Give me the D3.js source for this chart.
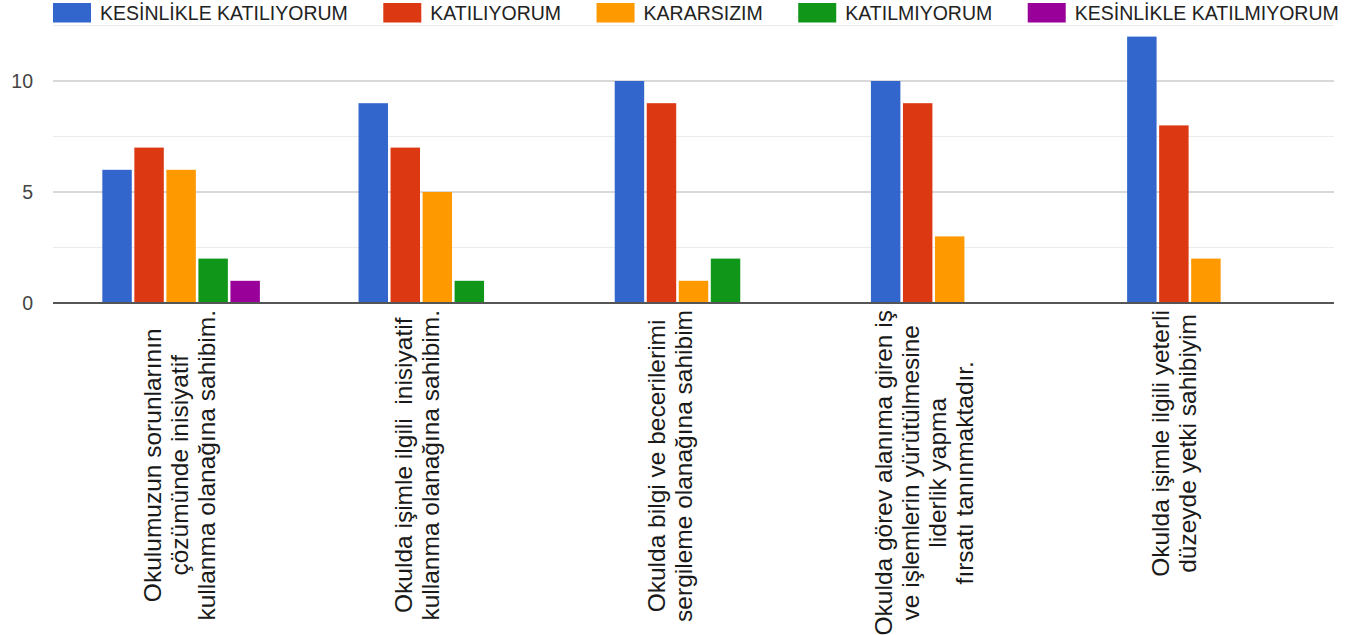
<!DOCTYPE html>
<html><head><meta charset="utf-8">
<script src="https://cdn.jsdelivr.net/npm/d3@7"></script>
<style>
html,body{margin:0;padding:0;background:#fff;}
svg{display:block;font-family:"Liberation Sans",Arial,sans-serif;}
text{white-space:pre;}
</style>
</head><body>
<svg id="chart" width="1357" height="635"></svg>
<script>
const categories = [
  "Okulumuzun sorunlarının\nçözümünde inisiyatif\nkullanma olanağına sahibim.",
  "Okulda işimle ilgili  inisiyatif\nkullanma olanağına sahibim.",
  "Okulda bilgi ve becerilerimi\nsergileme olanağına sahibim",
  "Okulda görev alanıma giren iş\nve işlemlerin yürütülmesine\nliderlik yapma\nfırsatı tanınmaktadır.",
  "Okulda işimle ilgili yeterli\ndüzeyde yetki sahibiyim"
];
const seriesNames = ["KESİNLİKLE KATILIYORUM","KATILIYORUM","KARARSIZIM","KATILMIYORUM","KESİNLİKLE KATILMIYORUM"];
const seriesColors = ["#3366cc","#dc3912","#ff9900","#109618","#990099"];
const kesinlikleKatiliyorum = [6, 9, 10, 10, 12];
const katiliyorum = [7, 7, 9, 9, 8];
const kararsizim = [6, 5, 1, 3, 2];
const katilmiyorum = [2, 1, 2, 0, 0];
const kesinlikleKatilmiyorum = [1, 0, 0, 0, 0];
const yTickValues = [0, 5, 10];
const yMinorGrid = [2.5, 7.5, 12.5];

const seriesValues = [kesinlikleKatiliyorum, katiliyorum, kararsizim, katilmiyorum, kesinlikleKatilmiyorum];

(function () {
// layout
const plotLeft = 53, plotRight = 1334, plotTop = 25.5, plotBottom = 303;
const labelShift = [-2, -20.5, -24, -26, -31.5];
const lineStep = 27;

const svg = d3.select("#chart");
const x0 = d3.scaleBand().domain(d3.range(categories.length)).range([plotLeft, plotRight]).padding(0);
const x1 = d3.scaleBand().domain(d3.range(seriesNames.length)).range([0, x0.bandwidth()])
  .paddingInner(0.08).paddingOuter(1.54).align(0.5);
const y = d3.scaleLinear().domain([0, 12.5]).range([plotBottom, plotTop]);

// gridlines
svg.append("g").selectAll("line").data(yMinorGrid).join("line")
  .attr("x1", plotLeft).attr("x2", plotRight).attr("y1", d => y(d)).attr("y2", d => y(d))
  .attr("stroke", "#ebebeb").attr("stroke-width", 1.2);
svg.append("g").selectAll("line").data(yTickValues.filter(d => d !== 0)).join("line")
  .attr("x1", plotLeft).attr("x2", plotRight).attr("y1", d => y(d)).attr("y2", d => y(d))
  .attr("stroke", "#cccccc").attr("stroke-width", 1.5);

// y axis labels
const yAxis = d3.axisLeft(y).tickValues(yTickValues).tickSize(0).tickPadding(0).tickFormat(d3.format("d"));
const ya = svg.append("g").attr("transform", "translate(33,0)").call(yAxis);
ya.select(".domain").remove();
ya.selectAll("text").attr("font-size", "19.5px").attr("fill", "#444")
  .attr("font-family", '"Liberation Sans",Arial,sans-serif');

// bars
const groups = svg.append("g").selectAll("g").data(categories.map((c, i) => i)).join("g")
  .attr("transform", i => `translate(${x0(i)},0)`);
groups.selectAll("rect").data(i => seriesValues.map((s, k) => ({k, v: s[i]}))).join("rect")
  .attr("x", d => x1(d.k)).attr("width", x1.bandwidth())
  .attr("y", d => y(d.v)).attr("height", d => y(0) - y(d.v))
  .attr("fill", d => seriesColors[d.k]);

// baseline
svg.append("line").attr("x1", plotLeft).attr("x2", plotRight).attr("y1", y(0)).attr("y2", y(0))
  .attr("stroke", "#555").attr("stroke-width", 2);

// category labels (rotated)
categories.forEach((c, i) => {
  const lines = c.split("\n");
  const cx = x0(i) + x0.bandwidth() / 2 + labelShift[i];
  const g = svg.append("g");
  const texts = lines.map((ln) => g.append("text").text(ln)
    .attr("font-size", "24.5px").attr("fill", "#1a1a1a").attr("text-anchor", "middle"));
  const maxW = d3.max(texts, t => t.node().getComputedTextLength());
  const topY = plotBottom + 7;
  texts.forEach((t, j) => {
    const lx = cx + (j - (lines.length - 1) / 2) * lineStep;
    t.attr("transform", `translate(${lx},${topY + maxW / 2}) rotate(-90)`).attr("dy", "0.35em");
  });
});

// legend
const legend = svg.append("g");
let lx = plotLeft;
seriesNames.forEach((n, k) => {
  legend.append("rect").attr("x", lx).attr("y", 3).attr("width", 38).attr("height", 19.5)
    .attr("fill", seriesColors[k]);
  const t = legend.append("text").attr("x", lx + 47).attr("y", 13).attr("dy", "0.35em")
    .attr("font-size", "19.5px").attr("fill", "#222").text(n);
  lx += 47 + t.node().getComputedTextLength() + 35.5;
});
})();
</script>
</body></html>
